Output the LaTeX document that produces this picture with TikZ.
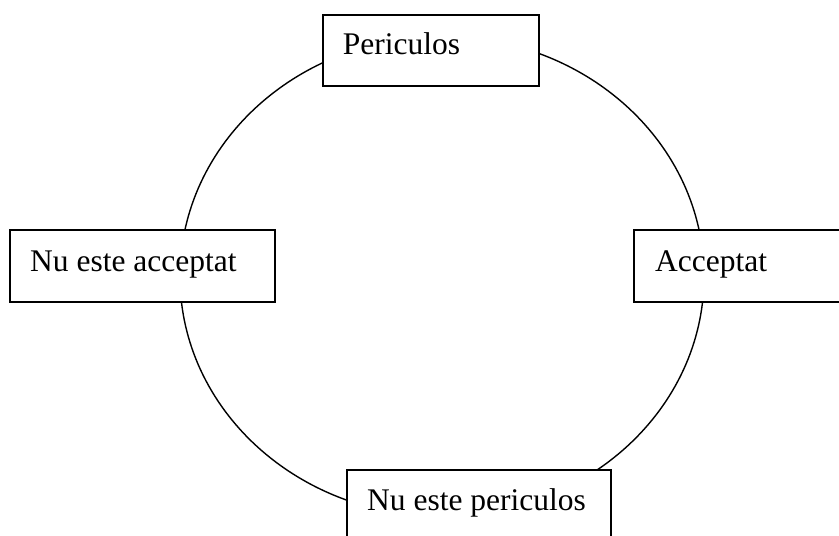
\documentclass[tikz,border=0pt]{standalone}
\usepackage{fontspec}
\setmainfont{Liberation Serif}
\usetikzlibrary{shapes.geometric}
\begin{document}
\begin{tikzpicture}[x=1pt,y=-1pt,
  boxshape/.style={draw=black, fill=white, line width=1.6pt, rectangle, inner sep=0pt, anchor=north west},
  lbl/.style={anchor=base west, inner sep=0pt, font=\fontsize{31.5}{36}\selectfont},
  ring/.style={draw=black, line width=1.4pt, ellipse, inner sep=0pt}]
\useasboundingbox (0,0) rectangle (839,536);
\clip (0,0) rectangle (839,536);
\node[ring, minimum width=524pt, minimum height=480pt] (r) at (442,276.5) {};
% top box
\node[boxshape, minimum width=216pt, minimum height=71pt] (b1) at (322,14) {};
\node[lbl] (t1) at (342.7,54) {Periculos};
% left box
\node[boxshape, minimum width=265pt, minimum height=72pt] (b2) at (9,229) {};
\node[lbl] (t2) at (30,271) {Nu este acceptat};
% right box
\node[boxshape, minimum width=260pt, minimum height=72pt] (b3) at (633,229) {};
\node[lbl] (t3) at (655,271) {Acceptat};
% bottom box
\node[boxshape, minimum width=264pt, minimum height=120pt] (b4) at (346,469) {};
\node[lbl] (t4) at (367,510.7) {Nu este periculos};
\end{tikzpicture}
\end{document}
